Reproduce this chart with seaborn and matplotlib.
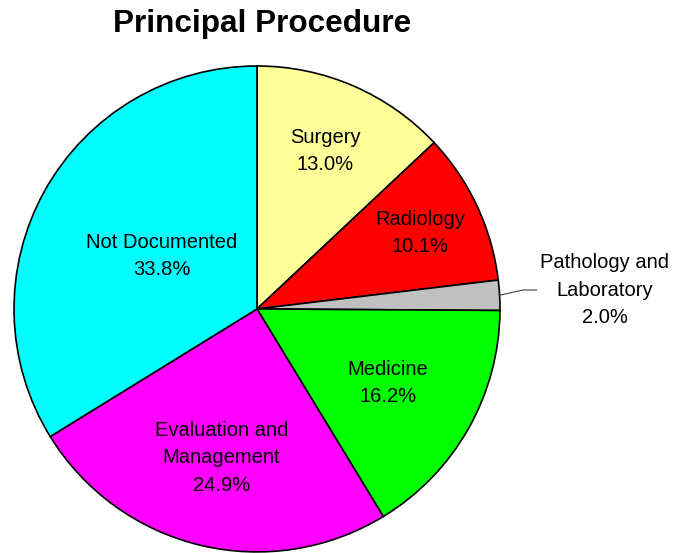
import numpy as np
import matplotlib
matplotlib.use("Agg")
import matplotlib.pyplot as plt
import seaborn as sns

# data
categories = ["Surgery", "Radiology", "Pathology and\nLaboratory", "Medicine",
              "Evaluation and\nManagement", "Not Documented"]
shares = [13.0, 10.1, 2.0, 16.2, 24.9, 33.8]
slice_colors = ["#FFFF99", "#FF0000", "#C0C0C0", "#00FF00", "#FF00FF", "#00FFFF"]

# radial distance of each label (fraction of radius); None -> outside label
label_dist = [0.71, 0.74, None, 0.62, 0.63, 0.45]

sns.set_theme(style="white")
plt.rcParams["font.family"] = ["Liberation Sans", "DejaVu Sans"]

fig = plt.figure(figsize=(6.74, 5.53), dpi=100)
ax = fig.add_axes([0.0208, 0.0018, 0.721, 0.879])

wedges, _ = ax.pie(shares, colors=slice_colors, startangle=90, counterclock=False,
                   wedgeprops=dict(edgecolor="black", linewidth=1.2))
for w in wedges:
    w.set_clip_on(False)
ax.set_xlim(-1, 1)
ax.set_ylim(-1, 1)
ax.set_aspect("equal")
ax.axis("off")

for w, name, val, d in zip(wedges, categories, shares, label_dist):
    mid = np.deg2rad((w.theta1 + w.theta2) / 2)
    txt = f"{name}\n{val:.1f}%"
    if d is not None:
        ax.text(d * np.cos(mid), d * np.sin(mid), txt, ha="center", va="center",
                fontsize=14.5, linespacing=1.55, color="black")
    else:
        ex, ey = np.cos(mid), np.sin(mid)
        ty = 0.078
        ax.plot([ex, 1.095, 1.152], [ey, ty, ty], color="#404040", lw=0.8, clip_on=False)
        ax.text(1.43, ty, txt, ha="center", va="center", fontsize=14.5,
                linespacing=1.55, color="black", clip_on=False)

fig.text(0.3895, 1 - 32 / 553, "Principal Procedure", ha="center", va="baseline",
         fontsize=22.7, fontweight="bold", color="black")

fig.savefig("out.png", dpi=100, facecolor="white")
